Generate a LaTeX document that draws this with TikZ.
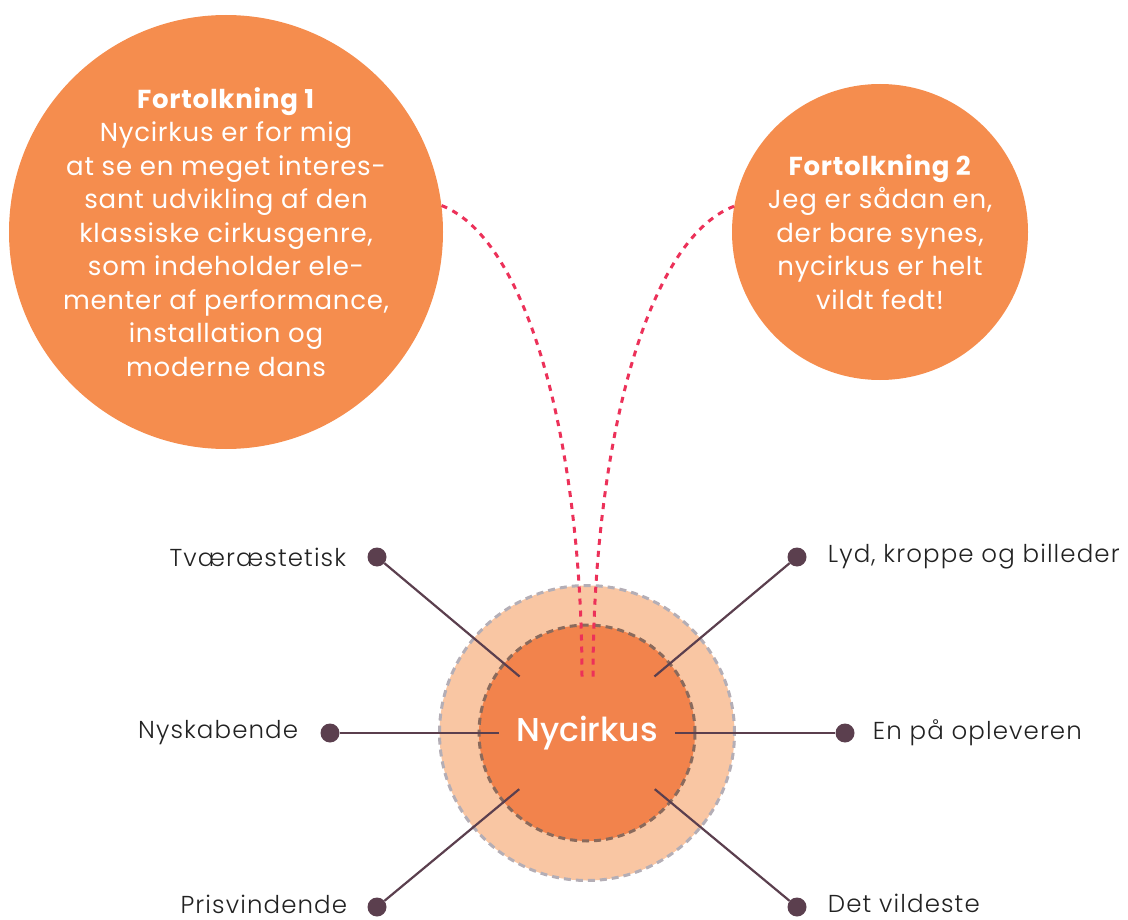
\documentclass[tikz,border=0pt]{standalone}
\usepackage{fontspec}
\usetikzlibrary{positioning,calc}
\setmainfont{Poppins}[LetterSpace=3]
\IfFontExistsTF{Poppins Light}{\newfontfamily\leggero{Poppins Light}[LetterSpace=4.5]}{\newfontfamily\leggero{Poppins}[LetterSpace=4.5]}
\IfFontExistsTF{Poppins Medium}{\newfontfamily\medio{Poppins Medium}}{\newfontfamily\medio{Poppins}}

\definecolor{arancio}{HTML}{F58D4E}
\definecolor{arancioscuro}{HTML}{F2834C}
\definecolor{pesca}{HTML}{F9C6A3}
\definecolor{grigiobordo}{HTML}{B4AEB6}
\definecolor{bordointerno}{HTML}{8A6A5C}
\definecolor{prugna}{HTML}{5B3F4E}
\definecolor{rosso}{HTML}{EC3159}
\definecolor{testo}{HTML}{222222}

\begin{document}
\begin{tikzpicture}[x=1pt, y=-1pt,
    bolla/.style={circle, fill=arancio, inner sep=0pt},
    testobolla/.style={align=center, text=white, inner sep=0pt,
        font=\fontsize{26}{33.5}\selectfont},
    bordo/.style={line width=3pt, dash pattern=on 7pt off 5pt},
    punto/.style={circle, fill=prugna, inner sep=0pt, minimum size=19pt},
    etichetta/.style={inner sep=0pt, text=testo,
        font=\leggero\fontsize{24.5}{28}\selectfont},
    raggio/.style={prugna, line width=2.2pt},
    filo/.style={rosso, line width=3pt, dash pattern=on 6pt off 6pt}]
    \useasboundingbox (0,0) rectangle (1128,920);

    % bolle delle interpretazioni
    \node[bolla, minimum size=434pt] (fort1) at (226,232) {};
    \node[testobolla] (testo1) at (fort1) {\textbf{Fortolkning 1}\\
        Nycirkus er for mig\\ at se en meget interes-\\ sant udvikling af den\\
        klassiske cirkusgenre,\\ som indeholder ele-\\ menter af performance,\\
        installation og\\ moderne dans};
    \node[bolla, minimum size=296pt] (fort2) at (880,232) {};
    \node[testobolla] (testo2) at (fort2) {\textbf{Fortolkning 2}\\
        Jeg er sådan en,\\ der bare synes,\\ nycirkus er helt\\ vildt fedt!};

    % cerchi centrali
    \node[circle, fill=pesca, draw=grigiobordo, bordo,
        minimum size=295pt] (anello) at (587,733) {};
    \node[circle, fill=arancioscuro, draw=bordointerno, bordo,
        minimum size=216pt] (nyc) at (anello) {};

    % punti ed etichette
    \node[punto] (d1) at (377,557) {};
    \node[punto] (d2) at (797,557) {};
    \node[punto] (d3) at (330,733) {};
    \node[punto] (d4) at (845,733) {};
    \node[punto] (d5) at (377,907) {};
    \node[punto] (d6) at (797,907) {};
    \node[etichetta, left=21pt of d1] (e1) {Tværæstetisk};
    \node[etichetta, right=21pt of d2] (e2) {Lyd, kroppe og billeder};
    \node[etichetta, left=22pt of d3] (e3) {Nyskabende};
    \node[etichetta, right=18pt of d4] (e4) {En på opleveren};
    \node[etichetta, left=20pt of d5, yshift=3pt] (e5) {Prisvindende};
    \node[etichetta, right=21pt of d6, yshift=3.5pt] (e6) {Det vildeste};

    % raggi verso il centro
    \foreach \d in {d1,d2,d3,d4,d5,d6} {
        \coordinate (fine\d) at ($(nyc)!88pt!(\d)$);
        \draw[raggio] (\d) -- (fine\d);
    }

    % fili tratteggiati
    \coordinate (filoA) at (582,678);
    \coordinate (filoB) at (593,678);
    \draw[filo] (fort1.7) .. controls (530,240) and (582,450) .. (filoA);
    \draw[filo] (fort2.170) .. controls (645,240) and (593,450) .. (filoB);

    % titolo centrale
    \node[text=white, font=\medio\fontsize{33}{40}\selectfont] (titolo) at (nyc) {Nycirkus};
\end{tikzpicture}
\end{document}
